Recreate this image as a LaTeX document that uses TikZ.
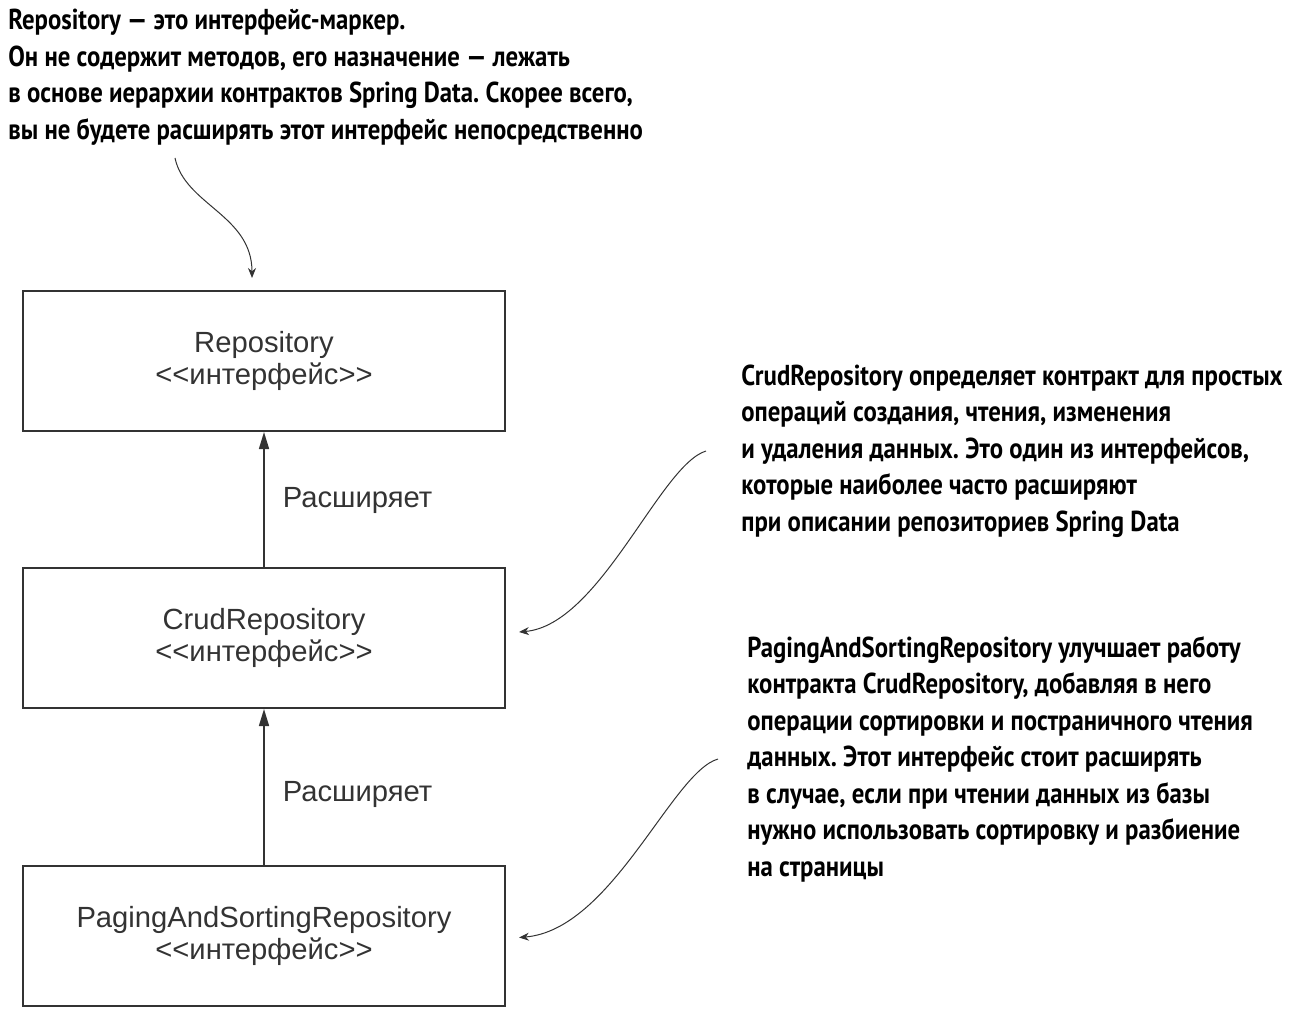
\documentclass[tikz,border=0pt]{standalone}
\usepackage{fontspec}
\setmainfont{Liberation Sans}[Ligatures=TeXOff]
\newfontfamily\notefont{PT Sans}[Ligatures=TeXOff, FakeStretch=0.86]
\usetikzlibrary{arrows.meta}
\definecolor{linegray}{HTML}{333333}
\frenchspacing
\tikzset{
  iface/.style={draw=linegray, line width=1pt, minimum width=241pt, minimum height=70pt,
    align=center, text=linegray, font=\fontsize{14.6pt}{16pt}\selectfont},
  extends/.style={draw=linegray, line width=0.75pt, -{Triangle[length=8.5pt,width=5pt]}},
  extlabel/.style={anchor=west, inner sep=0pt, xshift=9pt, text=linegray, font=\fontsize{14.6pt}{16pt}\selectfont},
  note/.style={align=left, inner sep=0pt, font=\notefont\bfseries\fontsize{14.4pt}{18.25pt}\selectfont},
  pointer/.style={draw=linegray, line width=0.5pt, -{Stealth[length=5pt,width=4pt]}}
}

\begin{document}
\begin{tikzpicture}[x=0.5pt,y=-0.5pt]
\useasboundingbox (0,0) rectangle (1294,1021);

% interfaces
\node[iface] (repo) at (264,361) {Repository\\<<интерфейс>>};
\node[iface] (crud) at (264,638) {CrudRepository\\<<интерфейс>>};
\node[iface] (paging) at (264,935.5) {PagingAndSortingRepository\\<<интерфейс>>};

\draw[extends] (crud.north) -- (repo.south) node[pos=0.49, extlabel] {Расширяет};
\draw[extends] (paging.north) -- (crud.south) node[pos=0.45, extlabel] {Расширяет};

% notes
\node[note, anchor=north west] (reponote) at (8,9) {Repository — это интерфейс-маркер.\\
Он не содержит методов, его назначение — лежать\\
в основе иерархии контрактов Spring Data. Скорее всего,\\
вы не будете расширять этот интерфейс непосредственно};
\node[note, anchor=west] (crudnote) at (741,451) {CrudRepository определяет контракт для простых\\
операций создания, чтения, изменения\\
и удаления данных. Это один из интерфейсов,\\
которые наиболее часто расширяют\\
при описании репозиториев Spring Data};
\node[note, anchor=west] (pagingnote) at (747,759) {PagingAndSortingRepository улучшает работу\\
контракта CrudRepository, добавляя в него\\
операции сортировки и постраничного чтения\\
данных. Этот интерфейс стоит расширять\\
в случае, если при чтении данных из базы\\
нужно использовать сортировку и разбиение\\
на страницы};

\coordinate (repostart) at (175,158);
\coordinate (repotip) at (252,278);
\draw[pointer] (repostart) .. controls (185,205) and (252,215) .. (repotip);
\draw[pointer] ([xshift=-17.5pt]crudnote.west) .. controls (660,465) and (600,625) .. ([xshift=6.5pt,yshift=3pt]crud.east);
\draw[pointer] ([xshift=-14.5pt]pagingnote.west) .. controls (672,772) and (612,930) .. ([xshift=6.5pt,yshift=-1pt]paging.east);
\end{tikzpicture}
\end{document}
